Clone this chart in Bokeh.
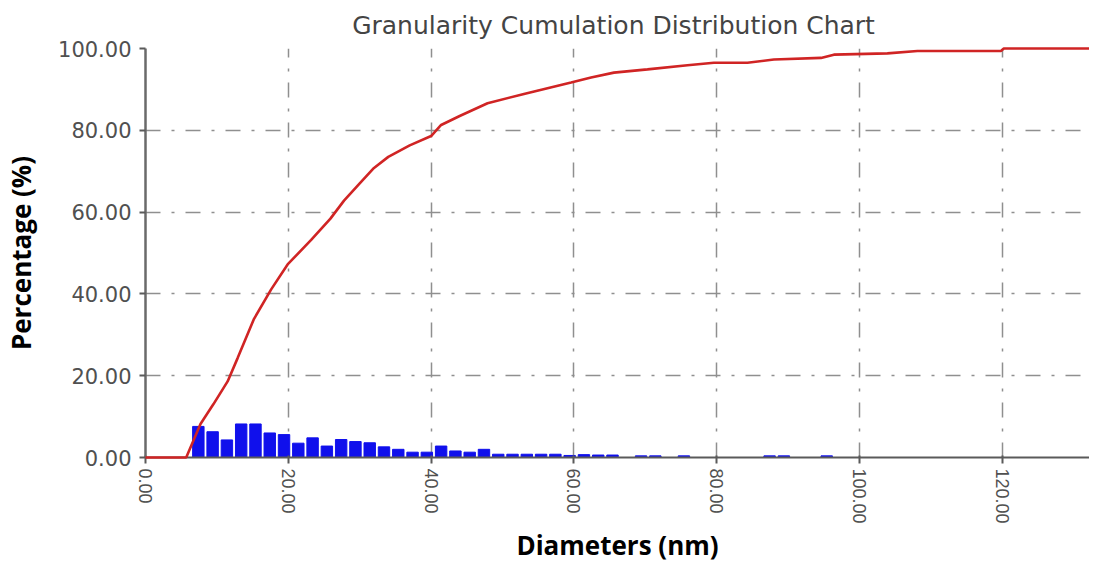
import math
from bokeh.plotting import figure
from bokeh.models import FixedTicker, PrintfTickFormatter, Range1d
from bokeh.embed import file_html
from bokeh.resources import INLINE

# --- data ---
bin_centers = [7.4, 9.4, 11.4, 13.4, 15.4, 17.4, 19.4, 21.4, 23.4, 25.4, 27.4, 29.4,
               31.4, 33.4, 35.4, 37.4, 39.4, 41.4, 43.4, 45.4, 47.4, 49.4, 51.4, 53.4,
               55.4, 57.4, 59.4, 61.4, 63.4, 65.4, 69.4, 71.4, 75.4, 87.4, 89.4, 95.4]
bin_percent = [7.6, 6.3, 4.3, 8.2, 8.2, 6.0, 5.6, 3.5, 4.8, 2.8, 4.4, 3.9,
               3.6, 2.6, 2.0, 1.3, 1.3, 2.8, 1.6, 1.3, 2.0, 0.8, 0.8, 0.8,
               0.8, 0.8, 0.5, 0.7, 0.6, 0.6, 0.4, 0.4, 0.4, 0.4, 0.4, 0.4]

cum_diam = [0, 5.7, 7.7, 9.5, 11.5, 12.9, 15.2, 17.6, 19.9, 23.2, 25.9, 27.8, 30.0,
            32.0, 34.0, 37.0, 40.0, 41.4, 44.0, 47.9, 53.0, 56.3, 59.6, 62.4, 65.6,
            70.3, 75.9, 79.6, 84.3, 88.0, 94.6, 96.4, 103.9, 108.1, 119.8, 120.2, 133.0]
cum_percent = [0, 0, 8.2, 13.0, 18.6, 24.3, 33.9, 41.1, 47.2, 53.2, 58.4, 62.8, 67.0,
               70.8, 73.5, 76.3, 78.6, 81.3, 83.5, 86.6, 88.9, 90.3, 91.7, 92.9, 94.1,
               94.9, 95.9, 96.5, 96.5, 97.3, 97.7, 98.5, 98.8, 99.4, 99.4, 100.0, 100.0]

x_ticks = [0, 20, 40, 60, 80, 100, 120]
y_ticks = [0, 20, 40, 60, 80, 100]

title_text = "Granularity Cumulation Distribution  Chart"
x_label = "Diameters (nm)"
y_label = "Percentage (%)"

X_END = 132.2

p = figure(frame_width=944, frame_height=409, output_backend="svg", toolbar_location=None,
           x_range=Range1d(0, X_END), y_range=Range1d(0, 100),
           min_border_left=140, min_border_right=0, min_border_top=0,
           min_border_bottom=40, title=title_text)
p.outline_line_color = None
p.background_fill_color = "white"

p.title.align = "center"
p.title.text_font = "DejaVu Sans"
p.title.text_font_size = "25px"
p.title.text_font_style = "normal"
p.title.text_color = "#444444"
p.title.standoff = 17

# bars
p.vbar(x=bin_centers, top=bin_percent, width=1.6, bottom=0,
       fill_color="#1010ec", line_color="#1010ec")
# cumulative curve (drawn above the axes, as in the reference)
p.line(cum_diam, cum_percent, line_color="#d02424", line_width=2.6, level="overlay")

# grids
for g in (p.xgrid, p.ygrid):
    g.grid_line_color = "#8f8f8f"
    g.grid_line_width = 1.5
    g.grid_line_dash = "15 11 3 11"

# x axis
xa = p.xaxis[0]
xa.ticker = FixedTicker(ticks=x_ticks)
xa.formatter = PrintfTickFormatter(format="%.2f")
xa.major_label_orientation = -math.pi / 2
xa.major_label_text_font = "Liberation Sans"
xa.major_label_text_font_size = "18px"
xa.major_label_text_color = "#505050"
xa.major_label_standoff = 5
xa.axis_line_color = "#5a5a5a"
xa.axis_line_width = 2
xa.major_tick_line_color = "#5a5a5a"
xa.major_tick_line_width = 2
xa.major_tick_out = 6
xa.major_tick_in = 2
xa.minor_tick_line_color = None
xa.axis_label = x_label
xa.axis_label_text_font = "Open Sans"
xa.axis_label_text_font_style = "bold"
xa.axis_label_text_font_size = "26px"
xa.axis_label_text_color = "black"
xa.axis_label_standoff = 0

# y axis
ya = p.yaxis[0]
ya.ticker = FixedTicker(ticks=y_ticks)
ya.formatter = PrintfTickFormatter(format="%.2f")
ya.major_label_text_font = "DejaVu Sans"
ya.major_label_text_font_size = "21px"
ya.major_label_text_color = "#505050"
ya.major_label_standoff = 8
ya.axis_line_color = "#6a6a6a"
ya.axis_line_width = 2.5
ya.major_tick_line_color = "#5a5a5a"
ya.major_tick_line_width = 2
ya.major_tick_out = 6
ya.major_tick_in = 0
ya.minor_tick_line_color = None
ya.axis_label = y_label
ya.axis_label_text_font = "Open Sans"
ya.axis_label_text_font_style = "bold"
ya.axis_label_text_font_size = "26px"
ya.axis_label_text_color = "black"
ya.axis_label_standoff = 16

open("out.html", "w").write(file_html(p, INLINE))
